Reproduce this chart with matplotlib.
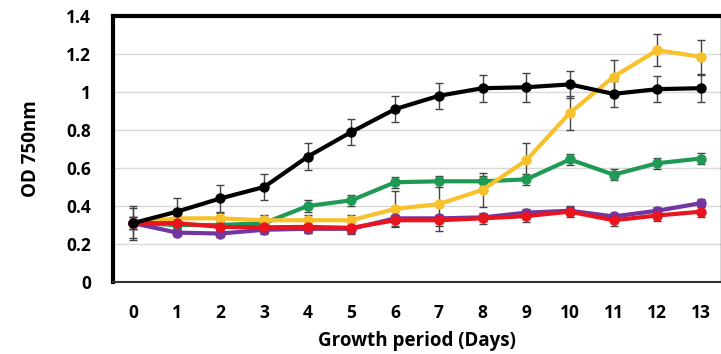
import matplotlib
matplotlib.use('agg')
import matplotlib.pyplot as plt

plt.rcParams['font.family'] = ['Open Sans', 'DejaVu Sans']

days = list(range(14))

black = [0.31, 0.37, 0.44, 0.50, 0.66, 0.79, 0.91, 0.98, 1.02, 1.025, 1.04, 0.99, 1.015, 1.02]
black_err = [0.09, 0.07, 0.07, 0.07, 0.07, 0.07, 0.07, 0.07, 0.07, 0.075, 0.07, 0.07, 0.07, 0.07]

yellow = [0.31, 0.335, 0.335, 0.325, 0.325, 0.325, 0.385, 0.41, 0.485, 0.64, 0.89, 1.08, 1.22, 1.185]
yellow_err = [0.03, 0.03, 0.03, 0.03, 0.03, 0.03, 0.095, 0.14, 0.09, 0.09, 0.09, 0.09, 0.085, 0.09]

green = [0.31, 0.30, 0.30, 0.31, 0.40, 0.43, 0.525, 0.53, 0.53, 0.54, 0.645, 0.565, 0.625, 0.65]
green_err = [0.03, 0.03, 0.03, 0.03, 0.03, 0.03, 0.03, 0.03, 0.03, 0.03, 0.03, 0.03, 0.03, 0.03]

purple = [0.31, 0.26, 0.255, 0.275, 0.28, 0.28, 0.335, 0.335, 0.34, 0.365, 0.375, 0.345, 0.375, 0.415]
purple_err = [0.08, 0.02, 0.02, 0.02, 0.02, 0.02, 0.02, 0.02, 0.02, 0.02, 0.02, 0.02, 0.02, 0.02]

red = [0.31, 0.31, 0.29, 0.288, 0.29, 0.285, 0.325, 0.325, 0.335, 0.347, 0.37, 0.325, 0.35, 0.37]
red_err = [0.03, 0.03, 0.03, 0.03, 0.03, 0.03, 0.03, 0.03, 0.03, 0.03, 0.03, 0.03, 0.03, 0.03]

series = [
    (green, green_err, '#1f9a55'),
    (yellow, yellow_err, '#f6c12a'),
    (purple, purple_err, '#7336a0'),
    (red, red_err, '#e8141e'),
    (black, black_err, 'black'),
]

fig = plt.figure(figsize=(7.21, 3.54), dpi=100)
ax = fig.add_axes([113 / 721, 1 - 282 / 354, (721 - 113) / 721, (282 - 16) / 354])

for vals, errs, col in series:
    ax.errorbar(days, vals, yerr=errs, color=col, lw=3, marker='o', markersize=6.5,
                ecolor='#444444', elinewidth=1, capsize=3, capthick=1)

ax.set_xlim(-0.46, 13.46)
ax.set_ylim(0, 1.4)
ax.set_yticks([0, 0.2, 0.4, 0.6, 0.8, 1, 1.2, 1.4])
ax.set_yticklabels(['0', '0.2', '0.4', '0.6', '0.8', '1', '1.2', '1.4'])
ax.set_xticks(days)
ax.yaxis.grid(True, color='#d9d9d9', lw=1)
ax.set_axisbelow(True)
ax.tick_params(length=0, labelsize=12.5)
ax.tick_params(axis='x', pad=16)
ax.tick_params(axis='y', pad=16)
for lab in ax.get_xticklabels() + ax.get_yticklabels():
    lab.set_fontweight('bold')

ax.spines['top'].set_linewidth(3)
ax.spines['left'].set_linewidth(3)
ax.spines['bottom'].set_linewidth(1.5)
ax.spines['bottom'].set_color('#333333')
ax.spines['right'].set_linewidth(1)
ax.spines['right'].set_color('#333333')

ax.set_xlabel('Growth period (Days)', fontsize=13.5, fontweight='bold', labelpad=6)
ax.set_ylabel('OD 750nm', fontsize=13.5, fontweight='bold', labelpad=18)

plt.savefig('out.png', dpi=100)
